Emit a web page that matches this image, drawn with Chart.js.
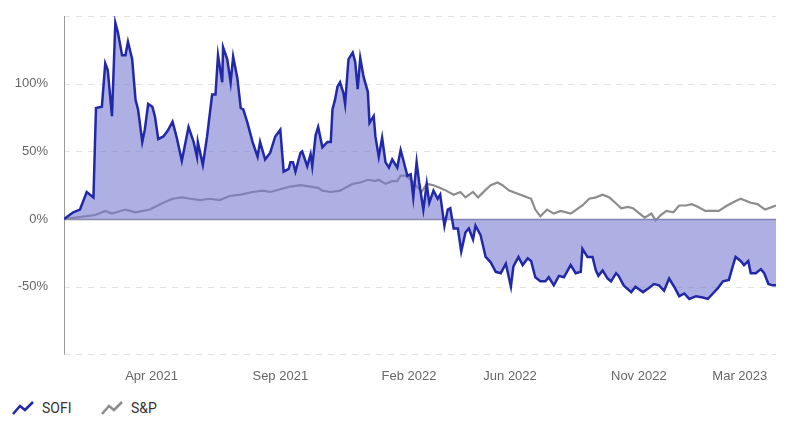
<!DOCTYPE html>
<html>
<head>
<meta charset="utf-8">
<script src="https://cdn.jsdelivr.net/npm/chart.js@4"></script>
<style>
  body { margin: 0; background: #fff; font-family: Roboto, "Noto Sans", sans-serif; }
  #wrap { position: relative; width: 792px; height: 390px; }
  #legend { position: absolute; top: 400px; left: 12px; font-size: 14px; color: #333; }
  #legend span { display: inline-flex; align-items: center; margin-right: 26px; }
  #legend svg { margin-right: 8px; }
</style>
</head>
<body>
<div id="wrap"><canvas id="c" width="792" height="390"></canvas></div>
<div id="legend">
  <span><svg width="22" height="14"><polyline points="1,13 8,5 13,9 21,1" fill="none" stroke="#2229a8" stroke-width="2.5"/></svg>SOFI</span>
  <span><svg width="22" height="14"><polyline points="1,13 8,5 13,9 21,1" fill="none" stroke="#8c8c8c" stroke-width="2.5"/></svg>S&amp;P</span>
</div>
<script>
// days since 2020-12-18
var startDate = Date.UTC(2020, 11, 18);
var monthNames = ['Jan','Feb','Mar','Apr','May','Jun','Jul','Aug','Sep','Oct','Nov','Dec'];
var tickDates = [[2021,3],[2021,8],[2022,1],[2022,5],[2022,10],[2023,2]];
var yTicks = [-100, -50, 0, 50, 100, 150];

var sofiDays = [0,1,11,19,27,35,38,45,49,52,57,61,64,69,73,76,81,85,88,93,96,100,105,108,112,118,123,129,134,140,148,154,158,159,165,170,176,180,183,188,189,194,198,201,206,210,213,218,224,230,233,239,245,251,257,261,267,269,272,275,281,283,289,293,295,299,302,307,313,317,319,322,325,328,332,334,338,343,346,349,352,356,361,363,368,370,374,378,382,386,390,396,400,403,408,412,415,419,422,427,431,434,439,444,447,452,456,459,463,468,472,477,481,486,489,495,501,507,513,519,525,531,534,540,545,551,555,560,566,572,576,582,588,594,602,608,614,616,622,628,632,635,640,646,650,656,659,665,674,679,688,695,701,707,713,719,725,731,737,743,751,759,765,771,777,783,790,795,798,804,808,813,816,822,828,832,837,842,846];
var sofiPct = [0,0,5,7,20,16,82,83,115,110,76,145,138,121,121,131,118,88,81,57,66,85,83,76,59,61,65,72,60,43,68,57,46,57,40,61,92,92,121,101,127,118,101,120,104,82,81,71,57,46,57,44,49,61,66,35,37,42,42,35,49,50,39,48,39,62,68,53,57,57,81,88,98,101,93,85,118,123,116,96,119,105,94,71,76,61,46,60,42,38,44,38,51,44,32,33,16,42,27,7,26,12,21,15,18,-5,7,8,-7,-7,-24,-10,-7,-15,-5,-12,-28,-32,-39,-40,-33,-50,-35,-28,-34,-29,-31,-43,-46,-46,-43,-49,-42,-43,-34,-40,-39,-22,-28,-28,-38,-42,-38,-44,-46,-40,-42,-49,-54,-50,-54,-51,-48,-49,-53,-44,-50,-57,-55,-59,-57,-58,-59,-55,-51,-46,-45,-34,-28,-31,-34,-31,-40,-40,-37,-40,-48,-49,-49];

var spDays = [0,37,49,57,73,85,102,118,129,140,150,162,173,185,197,210,224,236,245,257,269,281,293,302,307,317,328,343,352,361,370,374,382,390,396,400,406,412,419,425,431,439,447,454,463,471,477,486,492,500,507,515,521,529,555,560,566,574,582,590,602,616,624,632,640,648,655,662,670,676,684,690,698,703,709,716,724,731,739,746,753,762,771,778,788,797,804,816,824,833,846];
var spPct = [0,3,6,4,7,5,7,12,15,16,15,14,15,14,17,18,20,21,20,22,24,25,24,23,21,20,21,26,27,29,28,29,26,28,28,32,32,29,24,20,26,25,23,21,18,20,16,20,16,21,25,27,25,21,15,7,2,7,4,6,4,10,15,16,18,16,12,8,9,8,4,1,4,-1,3,6,5,10,10,11,9,6,6,6,10,13,15,12,11,7,10];

function toPoints(days, vals) {
  return days.map(function (d, i) { return { x: d, y: vals[i] }; });
}
function dayOf(y, m) { return Math.round((Date.UTC(y, m, 1) - startDate) / 86400000); }
var tickDays = tickDates.map(function (t) { return dayOf(t[0], t[1]); });

// dashed grid, solid zero line and left axis line, drawn under the data
var gridLines = {
  id: 'gridLines',
  beforeDatasetsDraw: function (chart) {
    var ctx = chart.ctx, area = chart.chartArea, ys = chart.scales.y;
    ctx.save();
    yTicks.forEach(function (v) {
      var py = Math.round(ys.getPixelForValue(v)) + 0.5;
      ctx.beginPath();
      if (v === 0) { ctx.setLineDash([]); ctx.strokeStyle = '#8a8aa8'; ctx.lineWidth = 1.5; }
      else { ctx.setLineDash([6, 6]); ctx.strokeStyle = '#e2e2e2'; ctx.lineWidth = 1; }
      ctx.moveTo(area.left, py);
      ctx.lineTo(area.right, py);
      ctx.stroke();
    });
    ctx.setLineDash([]);
    ctx.strokeStyle = '#999';
    ctx.lineWidth = 1;
    ctx.beginPath();
    ctx.moveTo(area.left + 0.5, area.top);
    ctx.lineTo(area.left + 0.5, area.bottom);
    ctx.stroke();
    ctx.restore();
  }
};

new Chart(document.getElementById('c'), {
  type: 'line',
  data: {
    datasets: [{
      label: 'SOFI',
      data: toPoints(sofiDays, sofiPct),
      borderColor: '#2229a8',
      backgroundColor: 'rgba(120,124,208,0.6)',
      borderWidth: 2.5,
      fill: 'origin',
      pointRadius: 0,
      tension: 0
    }, {
      label: 'S&P',
      data: toPoints(spDays, spPct),
      borderColor: '#8c8c8c',
      borderWidth: 2.2,
      fill: false,
      pointRadius: 0,
      tension: 0
    }]
  },
  options: {
    responsive: false,
    animation: false,
    layout: { padding: { left: 0, right: 16, top: 16 } },
    plugins: { legend: { display: false }, tooltip: { enabled: false } },
    scales: {
      x: {
        type: 'linear',
        min: 0,
        max: 846,
        afterBuildTicks: function (axis) { axis.ticks = tickDays.map(function (v) { return { value: v }; }); },
        ticks: {
          color: '#666', font: { size: 13 }, maxRotation: 0, autoSkip: false, padding: 6,
          callback: function (v) {
            var d = new Date(startDate + v * 86400000);
            return monthNames[d.getUTCMonth()] + ' ' + d.getUTCFullYear();
          }
        },
        grid: { display: false },
        border: { display: false }
      },
      y: {
        min: -100,
        max: 150,
        afterFit: function (axis) { axis.width = 64; },
        ticks: {
          stepSize: 50, color: '#666', font: { size: 13 }, padding: 8,
          callback: function (v) { return (v === 150 || v === -100) ? '' : v + '%'; }
        },
        grid: { display: false },
        border: { display: false }
      }
    }
  },
  plugins: [gridLines]
});
</script>
</body>
</html>
